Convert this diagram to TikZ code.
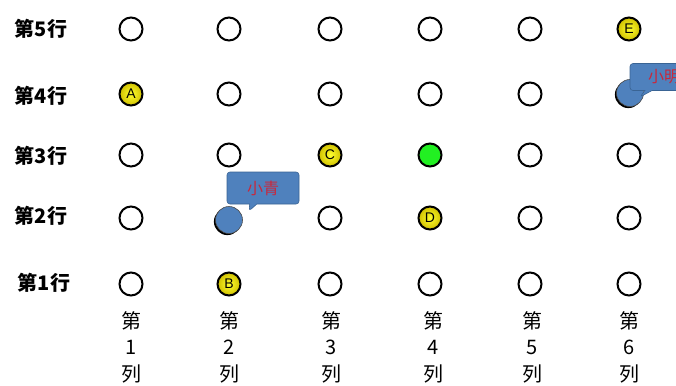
\documentclass[tikz,border=0pt]{standalone}
\usepackage{fontspec}
\setmainfont{Liberation Sans}
\newfontfamily\cjk{Noto Sans CJK SC}
\usetikzlibrary{shapes.callouts,shadows}
\definecolor{calloutblue}{HTML}{4F81BD}
\definecolor{calloutedge}{HTML}{3A6494}
\definecolor{calltext}{HTML}{C8283C}
\definecolor{seatgreen}{HTML}{22F022}
\definecolor{ylin}{HTML}{FFFF30}
\definecolor{ylout}{HTML}{D0C000}
\begin{document}
\begin{tikzpicture}[x=1pt,y=-1pt,
  seat/.style={circle,draw=black,line width=2pt,minimum size=23pt,inner sep=0pt,fill=white},
  lettered/.style={seat,inner color=ylin,outer color=ylout,font=\fontsize{14}{14}\selectfont},
  greenseat/.style={seat,fill=seatgreen},
  person/.style={circle,draw=black!70,line width=0.6pt,minimum size=27pt,inner sep=0pt,fill=calloutblue,
    drop shadow={shadow xshift=-1.6pt,shadow yshift=-1.6pt,fill=black,opacity=1}},
  rowlabel/.style={font=\cjk\bfseries\fontsize{20}{20}\selectfont,anchor=center},
  collabel/.style={font=\cjk\fontsize{20}{26.5}\selectfont,align=center,anchor=center},
  bubble/.style={rectangle callout,rounded corners=3pt,fill=calloutblue,draw=calloutedge,line width=0.6pt,
    text=calltext,font=\cjk\fontsize{16}{16}\selectfont,inner sep=0pt}]
\useasboundingbox (0,0) rectangle (676,385);
\clip (0,0) rectangle (676,385);
% row labels
\node[rowlabel] (r5) at (41,29) {第5行};
\node[rowlabel] (r4) at (41,96) {第4行};
\node[rowlabel] (r3) at (41,156) {第3行};
\node[rowlabel] (r2) at (41,216) {第2行};
\node[rowlabel] (r1) at (44,283) {第1行};
% column labels
\foreach \i/\x in {1/131,2/229,3/331,4/433,5/532,6/629}{
  \node[collabel] (col\i) at (\x,347) {第\\\i\\列};
}
% seats
\foreach \x [count=\i] in {131,229,330,430,530}{
  \node[seat] (s5\i) at (\x,29) {};
}
\node[lettered] (s56) at (629,29) {E};
\node[lettered] (s41) at (131,94) {A};
\foreach \x [count=\i from 2] in {229,330,430,530}{
  \node[seat] (s4\i) at (\x,94) {};
}
\node[seat] (s31) at (131,155) {};
\node[seat] (s32) at (229,155) {};
\node[lettered] (s33) at (330,155) {C};
\node[greenseat] (s34) at (430,155) {};
\node[seat] (s35) at (530,155) {};
\node[seat] (s36) at (629,155) {};
\node[seat] (s21) at (131,218) {};
\node[seat] (s23) at (330,218) {};
\node[lettered] (s24) at (430,218) {D};
\node[seat] (s25) at (530,218) {};
\node[seat] (s26) at (629,218) {};
\node[seat] (s11) at (131,284) {};
\node[lettered] (s12) at (229,284) {B};
\node[seat] (s13) at (330,284) {};
\node[seat] (s14) at (430,284) {};
\node[seat] (s15) at (530,284) {};
\node[seat] (s16) at (629,284) {};
% people
\node[person] (xq) at (229,220) {};
\node[person] (xm) at (630,93) {};
\coordinate (xqtip) at (249,211);
\coordinate (xmtip) at (640,97);
\node[bubble,minimum width=72pt,minimum height=32pt,callout absolute pointer=(xqtip)] (bq) at (263,188) {小青};
\node[bubble,minimum width=72pt,minimum height=27pt,callout absolute pointer=(xmtip),text width=62pt,align=left] (bm) at (666,77) {\hspace*{13pt}小明};
\end{tikzpicture}
\end{document}
